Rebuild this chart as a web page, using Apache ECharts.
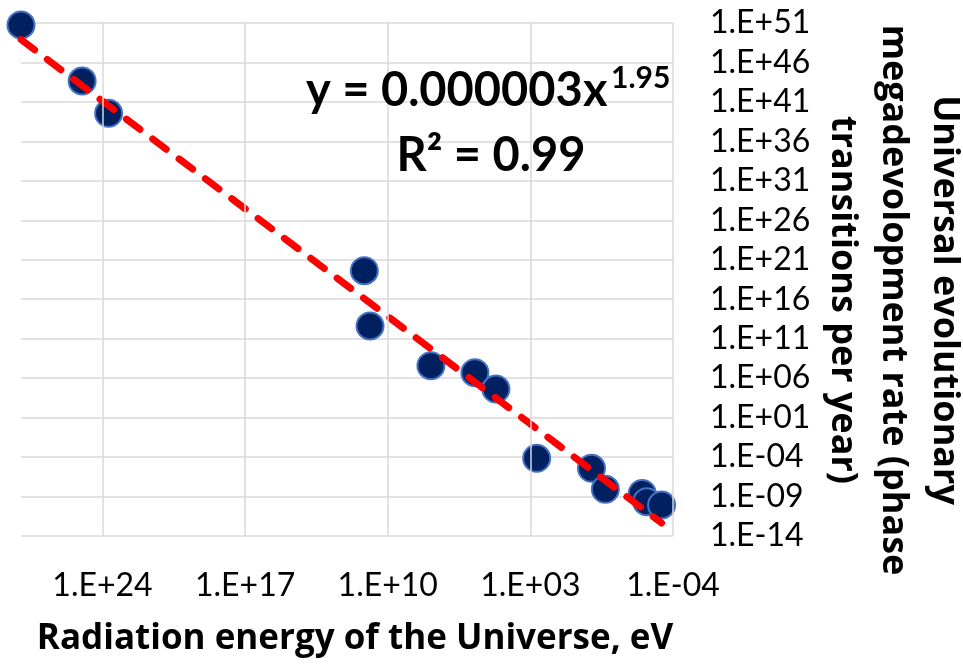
<!DOCTYPE html>
<html>
<head>
<meta charset="utf-8">
<script src="https://cdn.jsdelivr.net/npm/echarts@6/dist/echarts.min.js"></script>
<style>
  html, body { margin: 0; padding: 0; background: #fff; }
  #chart { width: 963px; height: 664px; }
</style>
</head>
<body>
<div id="chart"></div>
<script>
// Data: base-10 exponents
const energyExp = [28.0, 25.0, 23.7, 11.15, 10.87, 7.88, 5.72, 4.69, 2.69, 0.0, -0.68, -2.49, -2.71, -3.44]; // x: radiation energy, eV (log10)
const rateExp   = [50.75, 43.65, 39.56, 19.62, 12.61, 7.58, 6.69, 4.62, -4.16, -5.43, -8.09, -8.6, -9.66, -10.07]; // y: transitions per year (log10)

// Power-law trendline endpoints (log10) as drawn
const trendX = [28.0, -3.44];
const trendY = [48.9, -12.35];

// Axis ticks (log10)
const xTicks = [24, 17, 10, 3, -4];
const xMin = -4, xMax = 28, xStep = 7;
const yMin = -14, yMax = 51, yStep = 5;

const xTitle = 'Radiation energy of the Universe, eV';
const yTitle = 'Universal evolutionary\nmegadevolopment rate (phase\ntransitions per year)';
const eqMain = 'y = 0.000003x';
const eqSup = '1.95';
const r2Text = 'R² = 0.99';

function fmtExp(v) {
  const r = Math.round(v);
  if (Math.abs(v - r) > 1e-6) return '';
  const a = Math.abs(r);
  return '1.E' + (r < 0 ? '-' : '+') + (a < 10 ? '0' + a : '' + a);
}

const FONT = 'Lato, "Open Sans", sans-serif';
const TFONT = '"Open Sans", Lato, sans-serif';
const chart = echarts.init(document.getElementById('chart'), null, { renderer: 'canvas' });

const points = energyExp.map((x, i) => [x, rateExp[i]]);
const trend = trendX.map((x, i) => [x, trendY[i]]);

chart.setOption({
  animation: false,
  backgroundColor: '#ffffff',
  grid: { left: 21, top: 23, right: 290, bottom: 128, containLabel: false },
  xAxis: {
    type: 'value', inverse: true, min: xMin, max: xMax, interval: xStep,
    axisLine: { show: false }, axisTick: { show: false },
    splitLine: { show: false },
    axisLabel: {
      show: true, margin: 34, color: '#000', fontFamily: FONT, fontSize: 32,
      showMaxLabel: false,
      formatter: v => xTicks.indexOf(Math.round(v)) >= 0 ? fmtExp(v) : ''
    },
    name: xTitle, nameLocation: 'middle', nameGap: 86,
    nameTextStyle: { color: '#000', fontFamily: TFONT, fontSize: 35, fontWeight: 'bold', padding: [0, 0, 0, 16] }
  },
  yAxis: {
    type: 'value', position: 'right', min: yMin, max: yMax, interval: yStep,
    axisLine: { show: false }, axisTick: { show: false },
    splitLine: { show: true, lineStyle: { color: '#D9D9D9', width: 1.5 } },
    axisLabel: { margin: 37, color: '#000', fontFamily: FONT, fontSize: 32, formatter: fmtExp }
  },
  graphic: [
    {
      type: 'text', x: 893, y: 300, rotation: -Math.PI / 2, silent: true, z: 100,
      style: {
        text: yTitle, fill: '#000', fontFamily: TFONT, fontSize: 36, fontWeight: 'bold',
        textAlign: 'center', textVerticalAlign: 'middle', verticalAlign: 'middle', lineHeight: 51
      }
    },
    {
      type: 'text', x: 306, y: 91, silent: true, z: 100,
      style: { text: eqMain, fill: '#000', fontFamily: FONT, fontSize: 47, fontWeight: 'bold',
        textAlign: 'left', textVerticalAlign: 'middle', verticalAlign: 'middle' }
    },
    {
      type: 'text', x: 611, y: 78, silent: true, z: 100,
      style: { text: eqSup, fill: '#000', fontFamily: FONT, fontSize: 30, fontWeight: 'bold',
        textAlign: 'left', textVerticalAlign: 'middle', verticalAlign: 'middle' }
    },
    {
      type: 'text', x: 491, y: 156, silent: true, z: 100,
      style: { text: r2Text, fill: '#000', fontFamily: FONT, fontSize: 47, fontWeight: 'bold',
        textAlign: 'center', textVerticalAlign: 'middle', verticalAlign: 'middle' }
    }
  ],
  series: [
    {
      type: 'line', data: [], z: 1, silent: true,
      markLine: {
        silent: true, symbol: 'none', animation: false,
        label: { show: false },
        lineStyle: { color: '#D9D9D9', width: 1.5, type: 'solid' },
        data: xTicks.map(v => ({ xAxis: v }))
      }
    },
    {
      type: 'scatter', data: points, z: 3, symbol: 'circle', symbolSize: 27,
      itemStyle: { color: '#002060', borderColor: '#4472C4', borderWidth: 2, opacity: 1 }
    },
    {
      type: 'line', data: trend, z: 4, symbol: 'none', silent: true,
      lineStyle: { color: '#FF0000', width: 7, type: [17, 16], cap: 'round' }
    }
  ]
});
</script>
</body>
</html>
